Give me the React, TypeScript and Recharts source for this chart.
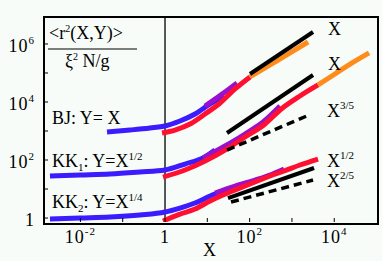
import { LineChart, Line, XAxis, YAxis, ReferenceLine } from 'recharts';

// tick values and labels (base, exponent)
const xTicks = [0.01, 0.1, 1, 10, 100, 1000, 10000];
const xTickLabels = [['10', '-2'], null, ['1', ''], null, ['10', '2'], null, ['10', '4']];
const yTicks = [1, 10, 100, 1000, 10000, 100000, 1000000];
const yTickLabels = [['1', ''], null, ['10', '2'], null, ['10', '4'], null, ['10', '6']];

// BJ: Y = X
const bjBlue = [[0.0426, 924], [0.149, 1080], [0.442, 1270], [1, 1490], [2.26, 2210], [5.12, 3860], [11.6, 8530], [24.8, 16100]];
const bjPurple = [[8.83, 7280], [15.2, 12700], [26.2, 22100], [50.4, 45200]];
const bjRed = [[0.849, 853], [1.72, 1080], [3.9, 1740], [8.83, 3860], [20, 9240], [45.2, 28100], [102, 72800]];
const bjOrange = [[102, 72800], [304, 189000], [902, 490000], [2400, 1170000]];
const bjSlope = [[102, 92400], [3150, 2590000]];

// KK1: Y = X^1/2
const kk1Blue = [[0.00191, 28.1], [0.0098, 30.4], [0.0501, 32.9], [0.256, 38.6], [1, 45.2], [2.97, 72.8], [7.91, 117], [15.2, 221]];
const kk1Purple = [[7.91, 117], [26.2, 304], [77.8, 788], [207, 2040], [523, 7280]];
const kk1Red = [[0.897, 25.9], [2.97, 45.2], [8.83, 92.4], [26.2, 221], [77.8, 621], [231, 1740], [523, 5300], [1550, 16100], [4140, 38600]];
const kk1Orange = [[4140, 38600], [10400, 92400], [26400, 221000], [66500, 490000]];
const kk1Slope = [[29.2, 853], [3150, 85300]];
const kk1Dash = [[29.2, 221], [2540, 3560]];

// KK2: Y = X^1/4
const kk2Blue = [[0.00191, 0.924], [0.0098, 1], [0.0501, 1.08], [0.256, 1.27], [1, 1.61], [2.26, 2.21], [5.12, 3.29], [11.6, 5.74], [26.2, 9.24]];
const kk2Purple = [[15.2, 7.28], [45.2, 12.7], [134, 20.4], [304, 30.4], [651, 48.9]];
const kk2Red = [[0.897, 0.788], [2.26, 1.37], [5.12, 2.04], [11.6, 3.86], [34.4, 7.88], [102, 14.9], [304, 28.1], [651, 41.8], [1550, 67.3], [4140, 108]];
const kk2Slope = [[30.8, 4.89], [3330, 53]];
const kk2Dash = [[36.3, 3.56], [3150, 20.4]];

const BLUE = '#3a1cff';
const PURPLE = '#9a10cc';
const RED = '#ff1030';
const ORANGE = '#ff8c1a';
const FONT = '"Liberation Serif", "Times New Roman", serif';

const pts = (a: number[][]) => a.map(([x, y]) => ({ x, y }));

function XTick(props: any) {
  const { x, payload } = props;
  const lbl = xTickLabels[xTicks.indexOf(payload.value)];
  return (
    <g>
      <line x1={x} x2={x} y1={222} y2={218} stroke="#000" strokeWidth={1} />
      {lbl && (
        <text x={x} y={243} textAnchor="middle" style={{ fontFamily: FONT, fontSize: 18, letterSpacing: 1 }} fill="#000">
          {lbl[0]}
          {lbl[1] && <tspan dy={-8} style={{ fontSize: 11 }}>{lbl[1]}</tspan>}
        </text>
      )}
    </g>
  );
}

function YTick(props: any) {
  const { y, payload } = props;
  const lbl = yTickLabels[yTicks.indexOf(payload.value)];
  return (
    <g>
      <line x1={44} x2={48} y1={y} y2={y} stroke="#000" strokeWidth={1} />
      {lbl && (
        <text x={35} y={y + 8} textAnchor="end" style={{ fontFamily: FONT, fontSize: 18, letterSpacing: 1 }} fill="#000">
          {lbl[0]}
          {lbl[1] && <tspan dy={-8} style={{ fontSize: 11 }}>{lbl[1]}</tspan>}
        </text>
      )}
    </g>
  );
}

export default function App() {
  const line = (key: string, d: number[][], color: string, w = 5, dash?: string) => (
    <Line
      key={key}
      data={pts(d)}
      dataKey="y"
      type="monotone"
      stroke={color}
      strokeWidth={w}
      strokeDasharray={dash}
      dot={false}
      activeDot={false}
      isAnimationActive={false}
    />
  );
  return (
    <div style={{ position: 'absolute', left: 0, top: 0, width: 382, height: 261, background: '#f7fcf8' }}>
      <LineChart width={382} height={261} margin={{ top: 17, right: 6, bottom: 0, left: 0 }}>
        <XAxis
          dataKey="x"
          type="number"
          scale="log"
          domain={[0.00138, 97000]}
          allowDataOverflow
          ticks={xTicks}
          tick={<XTick />}
          tickLine={false}
          axisLine={false}
          height={39}
          interval={0}
        />
        <YAxis
          type="number"
          scale="log"
          domain={[0.73, 8500000]}
          allowDataOverflow
          ticks={yTicks}
          tick={<YTick />}
          tickLine={false}
          axisLine={false}
          width={44}
          interval={0}
        />
        <ReferenceLine x={1} stroke="#222" strokeWidth={1.5} />
        {line('bjb', bjBlue, BLUE)}
        {line('bjp', bjPurple, PURPLE)}
        {line('bjr', bjRed, RED)}
        {line('bjo', bjOrange, ORANGE)}
        {line('bjs', bjSlope, '#000', 4)}
        {line('k1b', kk1Blue, BLUE)}
        {line('k1p', kk1Purple, PURPLE)}
        {line('k1r', kk1Red, RED)}
        {line('k1o', kk1Orange, ORANGE)}
        {line('k1s', kk1Slope, '#000', 4)}
        {line('k1d', kk1Dash, '#000', 3.5, '8 5')}
        {line('k2b', kk2Blue, BLUE)}
        {line('k2p', kk2Purple, PURPLE)}
        {line('k2r', kk2Red, RED)}
        {line('k2s', kk2Slope, '#000', 4)}
        {line('k2d', kk2Dash, '#000', 3.5, '8 5')}
      </LineChart>
      <div style={{ position: 'absolute', left: 43, top: 16, width: 332, height: 205, border: '2px solid #000', pointerEvents: 'none' }} />
      <svg width={382} height={261} style={{ position: 'absolute', left: 0, top: 0, pointerEvents: 'none', fontFamily: FONT }} fill="#000">
        <text x={49} y={39} fontSize={18}>
          &lt;r<tspan dy={-7} fontSize={10}>2</tspan><tspan dy={7}>(X,Y)&gt;</tspan>
        </text>
        <line x1={48} x2={137} y1={49} y2={49} stroke="#000" strokeWidth={1} />
        <text x={65} y={67} fontSize={18}>
          ξ<tspan dy={-7} fontSize={10}>2</tspan><tspan dy={7}> N/g</tspan>
        </text>
        <text x={52} y={124} fontSize={18}>BJ: Y= X</text>
        <text x={52} y={167} fontSize={18}>
          KK<tspan dy={4} fontSize={11}>1</tspan><tspan dy={-4}>: Y=X</tspan><tspan dy={-7} fontSize={11}>1/2</tspan>
        </text>
        <text x={52} y={208} fontSize={18}>
          KK<tspan dy={4} fontSize={11}>2</tspan><tspan dy={-4}>: Y=X</tspan><tspan dy={-7} fontSize={11}>1/4</tspan>
        </text>
        <text x={328} y={35} fontSize={18}>X</text>
        <text x={328} y={70} fontSize={18}>X</text>
        <text x={327} y={117} fontSize={18}>
          X<tspan dy={-8} fontSize={11}>3/5</tspan>
        </text>
        <text x={327} y={167} fontSize={18}>
          X<tspan dy={-8} fontSize={11}>1/2</tspan>
        </text>
        <text x={327} y={187} fontSize={18}>
          X<tspan dy={-8} fontSize={11}>2/5</tspan>
        </text>
        <text x={203} y={256} fontSize={18}>X</text>
      </svg>
    </div>
  );
}
